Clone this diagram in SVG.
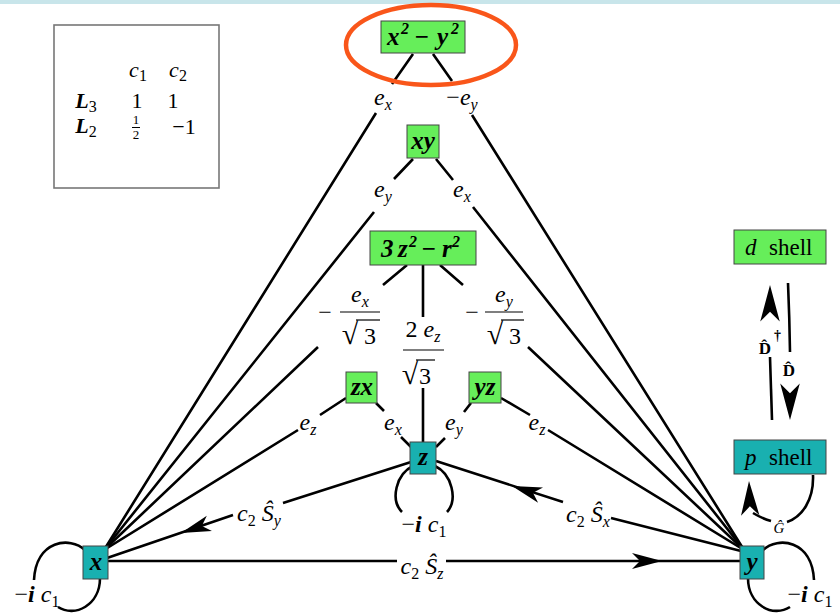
<svg xmlns="http://www.w3.org/2000/svg" xmlns:xlink="http://www.w3.org/1999/xlink" width="840" height="613" viewBox="0 0 840 613">
<style>
.e{stroke:#000;stroke-width:2.6;fill:none}
.g{fill:#66ee5a;stroke:#444;stroke-width:1}
.t{fill:#19b0b0;stroke:#444;stroke-width:1}
.nl{font-family:"Liberation Serif",serif;font-size:25px;font-weight:bold;font-style:italic;fill:#000}
.sup{font-size:16px}
.lb{font-family:"Liberation Serif",serif;font-size:24px;fill:#000;text-anchor:middle}
.st{font-family:"Liberation Serif",serif;font-size:23px;fill:#000}
.tb{font-family:"Liberation Serif",serif;font-size:22px;fill:#000;text-anchor:middle}
.i{font-style:italic}
.b{font-weight:bold}
.s{font-size:16px}
.rt{font-family:"Liberation Serif",serif;font-size:30px;fill:#000;text-anchor:middle}
.op{font-family:"Liberation Serif",serif;font-size:17px;font-weight:bold;fill:#000;text-anchor:middle}
</style>
<defs>
<path id="ah" d="M0,0 L-30,-8 L-22,0 L-30,8 Z" fill="#000"/>
</defs>
<rect x="0" y="0" width="840" height="613" fill="#fff"/>
<rect x="0" y="0" width="840" height="4" fill="#c8e5ea"/>

<g id="legend">
<rect x="54" y="25" width="165" height="163" fill="#fff" stroke="#777" stroke-width="1.6"/>
<text class="tb" x="138" y="77"><tspan class="i">c</tspan><tspan class="s" dy="4">1</tspan></text>
<text class="tb" x="178" y="77"><tspan class="i">c</tspan><tspan class="s" dy="4">2</tspan></text>
<text class="tb" x="86" y="108"><tspan class="i b">L</tspan><tspan class="s" dy="4">3</tspan></text>
<text class="tb" x="137" y="108">1</text>
<text class="tb" x="173" y="108">1</text>
<text class="tb" x="86" y="133"><tspan class="i b">L</tspan><tspan class="s" dy="4">2</tspan></text>
<text class="tb" x="136" y="124" style="font-size:13px">1</text>
<line x1="132" y1="127.5" x2="140" y2="127.5" stroke="#000" stroke-width="1"/>
<text class="tb" x="136" y="139" style="font-size:13px">2</text>
<text class="tb" x="184" y="134">−1</text>
</g>

<g id="connectors">
<path class="e" d="M413 54 L392 84 M376 113 L104 550"/>
<path class="e" d="M433 54 L452 81 M472 115 L744 550"/>
<path class="e" d="M413 159 L394 179 M374 212 L104 550"/>
<path class="e" d="M436 159 L453 180 M473 207 L744 550"/>
<path class="e" d="M407 265 L383 285 M318 347 L104 550"/>
<path class="e" d="M440 265 L463 285 M528 347 L744 550"/>
<path class="e" d="M423 265 L423 317 M423 388 L423 442"/>
<path class="e" d="M346 398 L320 415 M298 430 L104 550"/>
<path class="e" d="M376 403 L384 411 M401 437 L412 448"/>
<path class="e" d="M471 403 L464 412 M445 438 L436 447"/>
<path class="e" d="M501 398 L530 415 M548 430 L744 550"/>
<path class="e" d="M411 462 L283 503 M233 515 L107 558"/>
<use xlink:href="#ah" href="#ah" transform="translate(181,533) rotate(161.2)"/>
<path class="e" d="M741 551 L611 518 M563 502 L436 461"/>
<use xlink:href="#ah" href="#ah" transform="translate(512,486) rotate(197.9)"/>
<path class="e" d="M108 561 L397 561 M446 561 L740 561"/>
<use xlink:href="#ah" href="#ah" transform="translate(662,561)"/>
<path class="e" d="M85 550 C70 536,36 540,34 580 M58 607 C75 618,100 605,100 578"/>
<path class="e" d="M763 550 C778 536,812 540,814 580 M790 607 C773 618,748 605,748 578"/>
<path class="e" d="M413 466 C396 474,390 500,402 512 M435 466 C452 474,458 500,447 512"/>
<path class="e" d="M772 420 Q771 390 770 357"/>
<use xlink:href="#ah" href="#ah" transform="translate(770,285) rotate(-90) scale(1.22)"/>
<path class="e" d="M788 283 Q789.5 318 790 352"/>
<use xlink:href="#ah" href="#ah" transform="translate(790,420) rotate(90) scale(1.22)"/>
<path class="e" d="M813 475 C814 500,802 517,787 522 M771 521 C764 519,758 516,753 513"/>
<use xlink:href="#ah" href="#ah" transform="translate(749,481) rotate(-92) scale(1.15)"/>

<text class="lb" x="383" y="105"><tspan class="i">e</tspan><tspan class="s i" dy="5">x</tspan></text>
<text class="lb" x="462" y="105">−<tspan class="i">e</tspan><tspan class="s i" dy="5">y</tspan></text>
<text class="lb" x="383" y="197"><tspan class="i">e</tspan><tspan class="s i" dy="5">y</tspan></text>
<text class="lb" x="462" y="197"><tspan class="i">e</tspan><tspan class="s i" dy="5">x</tspan></text>

<text class="lb" x="325" y="320">−</text>
<text class="lb" x="360" y="302"><tspan class="i">e</tspan><tspan class="s i" dy="5">x</tspan></text>
<line x1="340" y1="312" x2="380" y2="312" stroke="#000" stroke-width="1.2"/>
<text class="rt" x="350" y="344">√</text>
<line x1="356" y1="320" x2="380" y2="320" stroke="#000" stroke-width="1.2"/>
<text class="lb" x="370" y="344">3</text>

<text class="lb" x="472" y="320">−</text>
<text class="lb" x="504" y="302"><tspan class="i">e</tspan><tspan class="s i" dy="5">y</tspan></text>
<line x1="485" y1="312" x2="523" y2="312" stroke="#000" stroke-width="1.2"/>
<text class="rt" x="495" y="344">√</text>
<line x1="501" y1="320" x2="524" y2="320" stroke="#000" stroke-width="1.2"/>
<text class="lb" x="515" y="344">3</text>

<text class="lb" x="423" y="337">2 <tspan class="i">e</tspan><tspan class="s i" dy="5">z</tspan></text>
<line x1="403" y1="350" x2="444" y2="350" stroke="#000" stroke-width="1.2"/>
<text class="rt" x="410" y="384">√</text>
<line x1="416" y1="360" x2="435" y2="360" stroke="#000" stroke-width="1.2"/>
<text class="lb" x="425" y="384">3</text>

<text class="lb" x="308" y="430"><tspan class="i">e</tspan><tspan class="s i" dy="5">z</tspan></text>
<text class="lb" x="393" y="430"><tspan class="i">e</tspan><tspan class="s i" dy="5">x</tspan></text>
<text class="lb" x="454" y="430"><tspan class="i">e</tspan><tspan class="s i" dy="5">y</tspan></text>
<text class="lb" x="537" y="430"><tspan class="i">e</tspan><tspan class="s i" dy="5">z</tspan></text>

<text class="lb" x="259" y="521"><tspan class="i">c</tspan><tspan class="s" dy="5">2</tspan><tspan class="i" dy="-5"> Ŝ</tspan><tspan class="s i" dy="5">y</tspan></text>
<text class="lb" x="588" y="522"><tspan class="i">c</tspan><tspan class="s" dy="5">2</tspan><tspan class="i" dy="-5"> Ŝ</tspan><tspan class="s i" dy="5">x</tspan></text>
<text class="lb" x="422" y="574"><tspan class="i">c</tspan><tspan class="s" dy="5">2</tspan><tspan class="i" dy="-5"> Ŝ</tspan><tspan class="s i" dy="5">z</tspan></text>

<text class="lb" x="424" y="532">−<tspan class="i b">i</tspan><tspan class="i"> c</tspan><tspan class="s" dy="5">1</tspan></text>
<text class="lb" x="37" y="602">−<tspan class="i b">i</tspan><tspan class="i"> c</tspan><tspan class="s" dy="5">1</tspan></text>
<text class="lb" x="810" y="602">−<tspan class="i b">i</tspan><tspan class="i"> c</tspan><tspan class="s" dy="5">1</tspan></text>

<text class="op" x="765" y="354">D̂</text>
<text x="774" y="340" style="font-family:'Liberation Serif',serif;font-size:14px;font-weight:bold;fill:#000">†</text>
<text class="op" x="789" y="376">D̂</text>
<text class="op" x="779" y="533" style="font-weight:normal;font-style:italic;font-size:15px">Ĝ</text>
</g>

<g id="node-x2y2">
<rect class="g" x="381" y="21" width="84" height="32"/>
<text class="nl"><tspan x="387" y="45">x</tspan><tspan class="sup" x="401" y="34">2</tspan><tspan x="414" y="45">−</tspan><tspan x="437" y="45">y</tspan><tspan class="sup" x="451" y="34">2</tspan></text>
</g>
<g id="node-xy">
<rect class="g" x="407" y="125" width="32" height="33"/>
<text class="nl" x="423" y="149" text-anchor="middle">xy</text>
</g>
<g id="node-3z2r2">
<rect class="g" x="370" y="231" width="106" height="34"/>
<text class="nl"><tspan x="381" y="257">3</tspan><tspan x="398" y="257">z</tspan><tspan class="sup" x="409" y="247">2</tspan><tspan x="421" y="257">−</tspan><tspan x="442" y="257">r</tspan><tspan class="sup" x="452" y="247">2</tspan></text>
</g>
<g id="node-zx">
<rect class="g" x="346" y="372" width="31" height="31"/>
<text class="nl" x="362" y="395" text-anchor="middle">zx</text>
</g>
<g id="node-yz">
<rect class="g" x="469" y="372" width="32" height="31"/>
<text class="nl" x="485" y="395" text-anchor="middle">yz</text>
</g>
<g id="node-z">
<rect class="t" x="410" y="442" width="26" height="32"/>
<text class="nl" x="423" y="465" text-anchor="middle">z</text>
</g>
<g id="node-x">
<rect class="t" x="83" y="546" width="25" height="33"/>
<text class="nl" x="96" y="570" text-anchor="middle">x</text>
</g>
<g id="node-y">
<rect class="t" x="740" y="546" width="24" height="33"/>
<text class="nl" x="752" y="570" text-anchor="middle">y</text>
</g>
<g id="node-dshell">
<rect class="g" x="734" y="230" width="92" height="34"/>
<text class="st" y="255"><tspan class="i" x="745">d</tspan><tspan x="769">shell</tspan></text>
</g>
<g id="node-pshell">
<rect class="t" x="734" y="440" width="92" height="34"/>
<text class="st" y="465"><tspan class="i" x="745">p</tspan><tspan x="769">shell</tspan></text>
</g>

<g id="highlight">
<ellipse cx="431" cy="45" rx="85" ry="40" fill="none" stroke="#f9561a" stroke-width="4.5"/>
</g>
</svg>
